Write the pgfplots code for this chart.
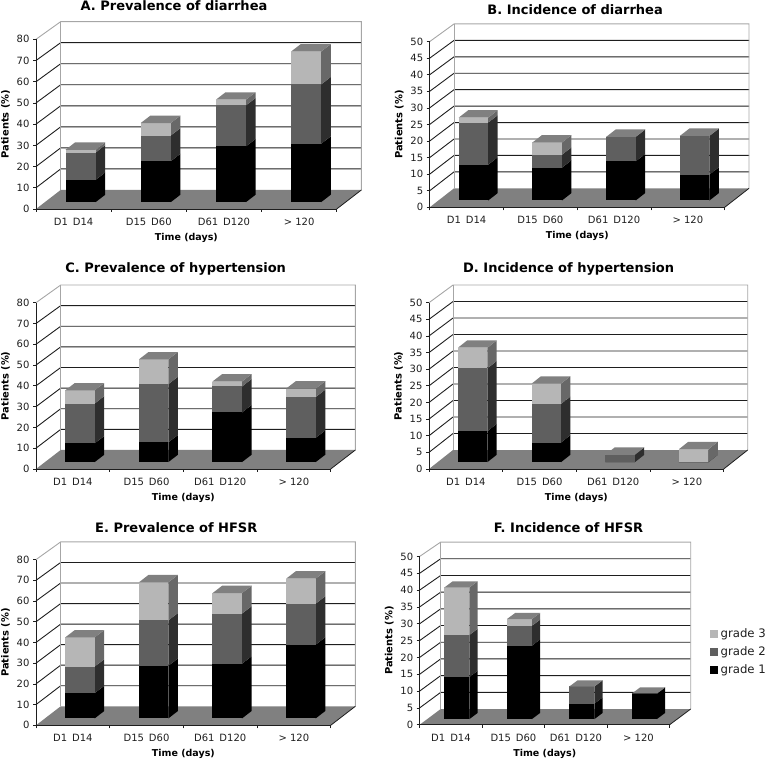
\documentclass[border=0pt]{standalone}
\usepackage{fontspec}
\setmainfont{DejaVu Sans}
\usepackage{pgfplots}
\pgfplotsset{compat=1.18}
\definecolor{gridc}{HTML}{1E1E1E}
\definecolor{wallc}{HTML}{A6A6A6}
\definecolor{floorc}{HTML}{808080}
\definecolor{gi}{HTML}{000000}
\definecolor{gii}{HTML}{5F5F5F}
\definecolor{giii}{HTML}{B6B6B6}
\definecolor{giis}{HTML}{2E2E2E}
\definecolor{giiis}{HTML}{686868}
\definecolor{topc}{HTML}{808080}

% 1 picture unit = 1 reference pixel; \Lx \By \Wd \Ht \Ym \Ys \Dx \Dy are set per panel
\pgfplotsset{
  every axis title shift=0pt,
  panel/.style={
    at={(\Lx pt,758pt-\By pt)}, anchor=origin,
    scale only axis, width=\Wd pt, height=\Ht pt,
    xmin=0, xmax=4, ymin=0, ymax=\Ym,
    clip=false, axis on top,
    axis x line*=bottom, axis y line*=left,
    axis line style={-,gridc,line width=0.8pt},
    tick style={gridc,line width=0.7pt},
    tick align=outside, major tick length=3pt,
    ytick distance=\Ys,
    xtick={0,1,2,3,4}, xticklabels={},
    extra x ticks={0.5,1.5,2.5,3.5},
    extra x tick labels={D1\enspace D14,D15\enspace D60,D61\enspace D120,> 120},
    extra x tick style={major tick length=0pt,
      xticklabel style={yshift=-5.5pt}},
    tick label style={font=\fontsize{10}{12}\selectfont,text=gridc},
    /pgf/number format/assume math mode=true,
    ylabel={Patients (\%)}, xlabel={Time (days)},
    every axis y label/.style={at={(axis description cs:0,0.5)},xshift=-30.5pt,
      rotate=90,anchor=center,font=\fontsize{9.9}{11}\selectfont\bfseries},
    every axis x label/.style={at={(axis description cs:0.5,0)},yshift=-29pt,
      anchor=center,font=\fontsize{9.5}{11}\selectfont\bfseries},
    title style={font=\fontsize{13}{15}\selectfont\bfseries,anchor=center},
  },
}

\newcommand{\poly}[2]{\edef\tmp{\noexpand\addplot[fill=#1,draw=none,forget plot] coordinates {#2} --cycle;}\tmp}
\newcommand{\lin}[3]{\edef\tmp{\noexpand\addplot[#1,line width=#2,forget plot] coordinates {#3};}\tmp}

% walls, grid and floor of one panel
\newcommand{\room}[1]{%
  \pgfmathsetmacro\xb{4+\Dx}
  \pgfmathsetmacro\yt{\Dy+\Ym*0.992}
  \pgfplotsforeachungrouped \v in {#1}{%
    \pgfmathsetmacro\yg{\Dy+\v*0.992}
    \lin{gridc}{0.9pt}{(0,\v)(\Dx,\yg)(\xb,\yg)}
  }
  \lin{wallc}{0.9pt}{(0,\Ym)(\Dx,\yt)(\xb,\yt)(\xb,\Dy)}
  \lin{wallc}{0.9pt}{(\Dx,\Dy)(\Dx,\yt)}
  \poly{floorc}{(0,0)(\Dx,\Dy)(\xb,\Dy)(4,0)}
  \lin{gridc}{0.8pt}{(4,0)(\xb,\Dy)}
}

% one stacked segment: bar index, lower and upper value, front and side colour
\newcommand{\seg}[5]{%
  \pgfmathsetmacro\xa{#1+0.275+0.36*\Dx}
  \pgfmathsetmacro\xc{#1+0.675+0.36*\Dx}
  \pgfmathsetmacro\xd{#1+0.675+0.75*\Dx}
  \pgfmathsetmacro\la{#2+0.36*\Dy}
  \pgfmathsetmacro\ha{#3+0.36*\Dy}
  \pgfmathsetmacro\lb{#2+0.75*\Dy}
  \pgfmathsetmacro\hb{#3+0.75*\Dy}
  \poly{#5}{(\xc,\la)(\xd,\lb)(\xd,\hb)(\xc,\ha)}
  \poly{#4}{(\xa,\la)(\xc,\la)(\xc,\ha)(\xa,\ha)}
}
% one bar: index, cumulated top of grade 1, grade 2, grade 3
\newcommand{\stack}[4]{%
  \seg{#1}{0}{#2}{gi}{gi}
  \seg{#1}{#2}{#3}{gii}{giis}
  \seg{#1}{#3}{#4}{giii}{giiis}
  \pgfmathsetmacro\xa{#1+0.275+0.36*\Dx}
  \pgfmathsetmacro\xc{#1+0.675+0.36*\Dx}
  \pgfmathsetmacro\xe{#1+0.275+0.75*\Dx}
  \pgfmathsetmacro\xd{#1+0.675+0.75*\Dx}
  \pgfmathsetmacro\ha{#4+0.36*\Dy}
  \pgfmathsetmacro\hb{#4+0.75*\Dy}
  \poly{topc}{(\xa,\ha)(\xc,\ha)(\xd,\hb)(\xe,\hb)}
}
\newcommand{\setpanel}[8]{\def\Lx{#1}\def\By{#2}\def\Wd{#3}\def\Ht{#4}\def\Ym{#5}\def\Ys{#6}\def\Dx{#7}\def\Dy{#8}}

\begin{document}
\begin{tikzpicture}
\path[use as bounding box] (0,0) rectangle (766pt,758pt);

% A
\setpanel{36}{209}{300.7}{169.7}{80}{10}{0.328}{8.96}
\begin{axis}[panel, title={A. Prevalence of diarrhea},
  title style={at={(axis description cs:0.459,1.196)}}]
\room{10,20,30,40,50,60,70}
\stack{0}{10.5}{23.4}{24.7}
\stack{1}{19.3}{31.4}{37.3}
\stack{2}{26.3}{45.6}{48.3}
\stack{3}{27.5}{55.5}{71.0}
\end{axis}

% B
\setpanel{429.7}{207.3}{295}{165.7}{50}{5}{0.330}{5.73}
\begin{axis}[panel, title={B. Incidence of diarrhea},
  title style={at={(axis description cs:0.493,1.191)}}]
\room{5,10,15,20,25,30,35,40,45}
\stack{0}{10.8}{23.5}{25.0}
\stack{1}{9.9}{13.8}{17.5}
\stack{2}{11.8}{19.2}{19.2}
\stack{3}{7.8}{19.5}{19.5}
\end{axis}

% C
\setpanel{36}{469}{294.7}{166.3}{80}{10}{0.335}{9.14}
\begin{axis}[panel, title={C. Prevalence of hypertension},
  title style={at={(axis description cs:0.474,1.2)}}]
\room{10,20,30,40,50,60,70}
\stack{0}{9.0}{28.2}{34.5}
\stack{1}{9.5}{37.5}{49.4}
\stack{2}{23.9}{36.4}{38.8}
\stack{3}{11.7}{31.3}{35.4}
\end{axis}

% D
\setpanel{429}{469}{294.7}{166.3}{50}{5}{0.326}{5.71}
\begin{axis}[panel, title={D. Incidence of hypertension},
  title style={at={(axis description cs:0.474,1.2)}}]
\room{5,10,15,20,25,30,35,40,45}
\stack{0}{9.3}{28.2}{34.4}
\stack{1}{5.9}{17.5}{23.6}
\stack{2}{0}{2.2}{2.2}
\stack{3}{0}{0}{3.9}
\end{axis}

% E
\setpanel{36}{725.3}{294.7}{165.7}{80}{10}{0.335}{9.18}
\begin{axis}[panel, title={E. Prevalence of HFSR},
  title style={at={(axis description cs:0.476,1.194)}}]
\room{10,20,30,40,50,60,70}
\stack{0}{12.2}{25.0}{39.1}
\stack{1}{25.4}{47.3}{65.7}
\stack{2}{26.4}{50.6}{60.5}
\stack{3}{35.6}{55.4}{67.5}
\end{axis}

% F, with the legend of the whole figure
\setpanel{419.7}{724.7}{250}{168.3}{50}{5}{0.336}{4.66}
\begin{axis}[panel, title={F. Incidence of HFSR},
  title style={at={(axis description cs:0.595,1.173)}},
  legend style={at={(axis description cs:1.162,0.434)},anchor=west,draw=none,fill=none,
    inner sep=0pt,row sep=6.5pt,font=\fontsize{11.7}{14}\selectfont,
    nodes={inner sep=0.5pt,text=gridc}},
  legend cell align=left,
  legend image code/.code={\fill[#1] (0pt,-3.4pt) rectangle (6.8pt,3.4pt);\path[draw=none,fill=none] (0pt,0pt) -- (9.5pt,0pt);}]
\room{5,10,15,20,25,30,35,40,45}
\stack{0}{12.5}{25.0}{39.1}
\stack{1}{21.8}{27.7}{29.7}
\stack{2}{4.6}{9.7}{9.7}
\stack{3}{7.6}{7.6}{7.6}
\addlegendimage{giii}
\addlegendentry{grade 3}
\addlegendimage{gii}
\addlegendentry{grade 2}
\addlegendimage{gi}
\addlegendentry{grade 1}
\end{axis}
\end{tikzpicture}
\end{document}
